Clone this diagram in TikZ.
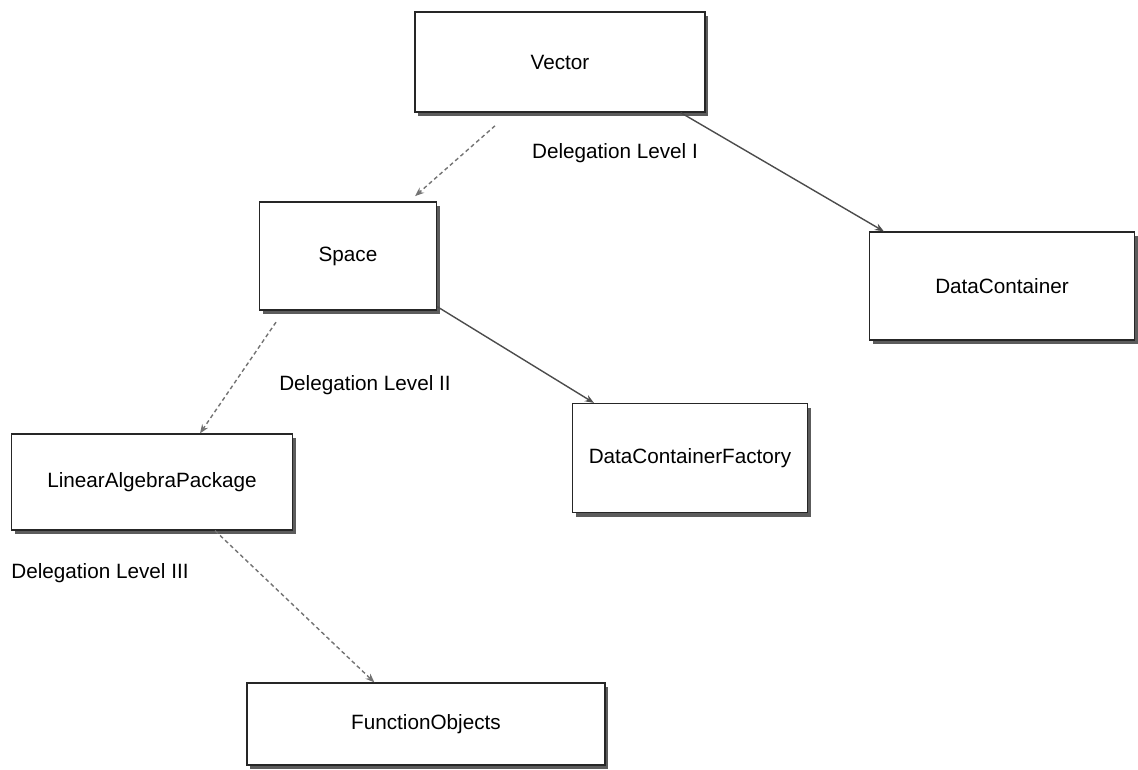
\documentclass[tikz,border=0pt]{standalone}
\usepackage{fontspec}
\setmainfont{Liberation Sans}
\usetikzlibrary{
    arrows.meta,
    positioning,
    shadows
}

\begin{document}
\begin{tikzpicture}[
        x=1pt, y=-1pt,
        box/.style={rectangle, draw=black!85, line width=1.2pt, fill=white, align=center,
            font=\fontsize{20.7}{24}\selectfont,
            drop shadow={shadow xshift=3pt, shadow yshift=-4pt, fill=black!80, opacity=0.8}},
        arrow/.style={-{Stealth[length=9pt, width=7pt]}, line width=1.4pt, black!70},
        delegate/.style={arrow, dashed, black!55, dash pattern=on 4pt off 3pt},
        lbl/.style={font=\fontsize{20.7}{24}\selectfont}
    ]
        \useasboundingbox (0,0) rectangle (1138,770);

        % Classes
        \node[box, minimum width=290pt, minimum height=100pt] (vector) at (560,62) {Vector};
        \node[box, minimum width=177pt, minimum height=108pt] (space) at (348,256) {Space};
        \node[box, minimum width=265pt, minimum height=108pt] (container) at (1002,286) {DataContainer};
        \node[box, minimum width=235pt, minimum height=109pt] (factory) at (690,458) {DataContainerFactory};
        \node[box, minimum width=281pt, minimum height=96pt] (linalg) at (152,482) {LinearAlgebraPackage};
        \node[box, minimum width=358pt, minimum height=82pt] (functors) at (426,724) {FunctionObjects};

        % Delegation levels
        \node[lbl] (levelone) at (615,153) {Delegation Level I};
        \node[lbl] (leveltwo) at (365,385) {Delegation Level II};
        \node[lbl] (levelthree) at (100,573) {Delegation Level III};

        % Arrows
        \draw[delegate, shorten <=20pt, shorten >=8pt] ([xshift=-50pt]vector.south) -- ([xshift=-28pt]space.north east);
        \draw[arrow] ([xshift=-25pt]vector.south east) -- ([xshift=15pt]container.north west);
        \draw[arrow] ([yshift=4pt]space.south east) -- ([xshift=22pt]factory.north west);
        \draw[delegate, shorten <=14pt] ([xshift=25pt]space.south west) -- ([xshift=48pt]linalg.north);
        \draw[delegate] ([xshift=63pt]linalg.south) -- ([xshift=128pt]functors.north west);
    \end{tikzpicture}
\end{document}
